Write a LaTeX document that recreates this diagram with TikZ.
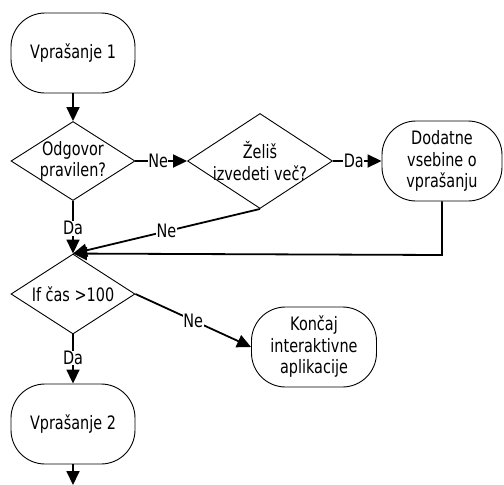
\documentclass[tikz,border=0pt]{standalone}
\usepackage{fontspec}
\setmainfont[FakeStretch=0.78]{DejaVu Sans}
\usetikzlibrary{shapes.geometric,arrows.meta}
\begin{document}
\begin{tikzpicture}[x=1pt,y=1pt,
  font=\fontsize{18.5}{21.5}\selectfont,
  termbox/.style={draw,line width=0.9pt,rounded corners=34pt,minimum width=#1,minimum height=80pt,align=center,inner sep=0pt},
  decbox/.style={draw,diamond,line width=0.9pt,inner sep=0pt,aspect=1},
  conn/.style={line width=1.8pt,-{Triangle[length=14pt,width=13pt]}},
  lab/.style={fill=white,inner sep=0.5pt}]
\useasboundingbox (0,0) rectangle (504,-485);
\node[termbox=124pt] (v1) at (73,-53) {Vprašanje 1};
\node[decbox,minimum width=124pt,minimum height=79pt,
  label={[align=center]center:Odgovor\\pravilen?}] (d1) at (73,-161) {};
\node[decbox,minimum width=145pt,minimum height=95pt,
  label={[align=center]center:Želiš\\izvedeti več?}] (d2) at (260,-161) {};
\node[termbox=120pt] (dod) at (442,-161) {Dodatne\\vsebine o\\vprašanju};
\node[decbox,minimum width=124pt,minimum height=80pt,
  label={center:If čas >100}] (d3) at (73,-294) {};
\node[termbox=125pt] (kon) at (314,-347) {Končaj\\interaktivne\\aplikacije};
\node[termbox=124pt] (v2) at (73,-424) {Vprašanje 2};
\coordinate (end) at (73,-485);
\coordinate (bend) at (dod.south |- 0,-255);

\draw[conn] (v1.south) -- (d1.north);
\draw[conn] (d1.east) -- node[lab,pos=0.44] (l1) {Ne} (d2.west);
\draw[conn] (d2.east) -- node[lab,pos=0.43] (l2) {Da} (dod.west);
\draw[conn] (d1.south) -- node[lab,pos=0.52] (l3) {Da} (d3.north);
\draw[conn] (d2.south) -- node[lab,pos=0.5] (l4) {Ne} (d3.north);
\draw[conn] (dod.south) -- (bend) -- (d3.north);
\draw[conn] (d3.east) -- node[lab,pos=0.5] (l5) {Ne} (kon.west);
\draw[conn] (d3.south) -- node[lab,pos=0.48] (l6) {Da} (v2.north);
\draw[conn] (v2.south) -- (end);
\end{tikzpicture}
\end{document}
